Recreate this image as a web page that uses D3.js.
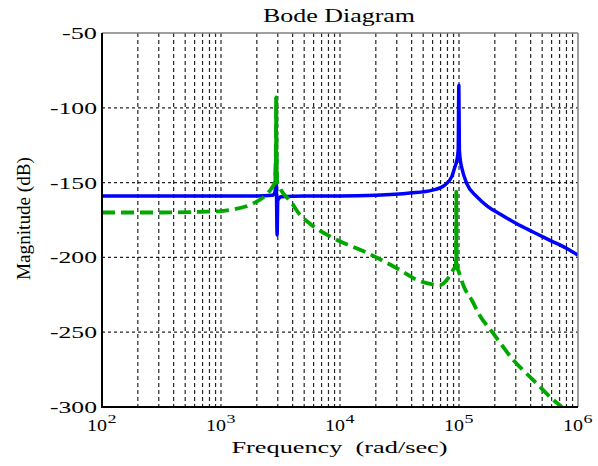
<!DOCTYPE html>
<html>
<head>
<meta charset="utf-8">
<script src="https://cdn.jsdelivr.net/npm/d3@7"></script>
<style>
  html, body { margin: 0; padding: 0; background: #fff; }
  svg { display: block; }
  text { font-family: "Liberation Serif", "Times New Roman", serif; fill: #000; }
</style>
</head>
<body>
<svg id="chart" width="598" height="466"></svg>
<script>
// ---- Data (frequency in rad/sec, magnitude in dB) ----
const blueFreq = [100, 1000, 2000, 2700, 2850, 2900, 2930, 2960, 3000, 3200, 5000, 10000, 20000, 38700, 60000, 75000, 87000, 92500, 96000, 98500, 99700, 100700, 103000, 105000, 116000, 141000, 175000, 221000, 306000, 419000, 582000, 804000, 1000000];
const blueMag  = [-159, -159, -159, -158.5, -156, -133, -160, -185, -162, -159.5, -159, -159, -158.5, -157, -155, -152, -146, -139.4, -135, -128, -85, -128, -136, -139.4, -150.5, -159.4, -166, -171, -177.5, -183, -188.6, -194, -198.5];

const greenFreq = [100, 300, 700, 1000, 1260, 1860, 2440, 2700, 2850, 2895, 2910, 2925, 2960, 3100, 3320, 3800, 4610, 5600, 8730, 16900, 31900, 44300, 60000, 69200, 80800, 89000, 94300, 95000, 95700, 100000, 110000, 128000, 150000, 194000, 286000, 421000, 620000, 730000, 900000];
const greenMag  = [-170, -170, -169.5, -169, -168, -164, -157.5, -153, -149, -120, -93, -120, -149, -153, -157, -162, -171.5, -177.5, -187, -197, -208.4, -215, -218, -218.5, -214, -208.5, -205, -156, -205, -210, -219.6, -228.5, -239, -250.8, -268.6, -282, -295.3, -300, -307];

const yTicks = [-50, -100, -150, -200, -250, -300];
const xDecades = [2, 3, 4, 5, 6];
const titleText = "Bode Diagram";
const xLabelText = "Frequency  (rad/sec)";
const yLabelText = "Magnitude (dB)";

// ---- Layout ----
const svg = d3.select("#chart");
const L = 102, R = 578, T = 33, B = 407;
const x = d3.scaleLog().domain([1e2, 1e6]).range([L, R]);
const y = d3.scaleLinear().domain([-300, -50]).range([B, T]);

svg.append("rect").attr("width", 598).attr("height", 466).attr("fill", "#fff");

svg.append("defs").append("clipPath").attr("id", "clip")
  .append("rect").attr("x", L).attr("y", T).attr("width", R - L).attr("height", B - T);

// ---- Grid ----
const minorVals = [];
for (let e = 2; e < 6; e++) for (let m = 1; m <= 9; m++) minorVals.push(m * Math.pow(10, e));
const grid = svg.append("g");
grid.selectAll("line.v").data(minorVals.filter(v => v > 1e2 && v < 1e6)).join("line")
  .attr("x1", d => x(d)).attr("x2", d => x(d)).attr("y1", T).attr("y2", B)
  .attr("stroke", "#000").attr("stroke-width", 1.2).attr("stroke-dasharray", "4,3").attr("opacity", 0.85);
grid.selectAll("line.h").data(yTicks.filter(v => v > -300 && v < -50)).join("line")
  .attr("x1", L).attr("x2", R).attr("y1", d => y(d)).attr("y2", d => y(d))
  .attr("stroke", "#000").attr("stroke-width", 1.2).attr("stroke-dasharray", "3,3").attr("opacity", 0.85);

// ---- Lines ----
const line = d3.line().x(d => x(d[0])).y(d => y(d[1])).curve(d3.curveMonotoneX);
const lineStraight = d3.line().x(d => x(d[0])).y(d => y(d[1]));
const blue = blueFreq.map((f, i) => [f, blueMag[i]]);
const green = greenFreq.map((f, i) => [f, greenMag[i]]);
const plot = svg.append("g").attr("clip-path", "url(#clip)");

plot.append("path").datum(blue).attr("d", line)
  .attr("fill", "none").attr("stroke", "#0000ff").attr("stroke-width", 3.5)
  .attr("stroke-linejoin", "round");

plot.append("path").datum(green).attr("d", line)
  .attr("fill", "none").attr("stroke", "#00a800").attr("stroke-width", 3.8)
  .attr("stroke-dasharray", "13,6");

// resonance spikes render solid (steep segments)
const steep = [];
for (let i = 1; i < green.length; i++) {
  if (Math.abs(green[i][1] - green[i - 1][1]) > 20) steep.push([green[i - 1], green[i]]);
}
plot.selectAll("path.steep").data(steep).join("path")
  .attr("d", lineStraight).attr("fill", "none").attr("stroke", "#00a800").attr("stroke-width", 3);

// ---- Frame ----
svg.append("line").attr("x1", L).attr("x2", R).attr("y1", T).attr("y2", T).attr("stroke", "#808080").attr("stroke-width", 1.5);
svg.append("line").attr("x1", R).attr("x2", R).attr("y1", T).attr("y2", B).attr("stroke", "#808080").attr("stroke-width", 1.5);
svg.append("line").attr("x1", L).attr("x2", L).attr("y1", T).attr("y2", B + 1).attr("stroke", "#000").attr("stroke-width", 2);
svg.append("line").attr("x1", L - 1).attr("x2", R).attr("y1", B).attr("y2", B).attr("stroke", "#000").attr("stroke-width", 2);

// ---- Tick labels ----
svg.selectAll("text.yt").data(yTicks).join("text")
  .attr("x", 97).attr("y", d => y(d) + 6)
  .attr("text-anchor", "end").attr("font-size", 16.5)
  .attr("textLength", d => String(d).length === 3 ? 35 : 47)
  .attr("lengthAdjust", "spacingAndGlyphs")
  .text(d => String(d));

const xt = svg.selectAll("g.xt").data(xDecades).join("g")
  .attr("transform", d => `translate(${x(Math.pow(10, d))},0)`);
xt.append("text").attr("x", -15).attr("y", 431).attr("font-size", 16.5)
  .attr("textLength", 20).attr("lengthAdjust", "spacingAndGlyphs").text("10");
xt.append("text").attr("x", 5.5).attr("y", 423).attr("font-size", 12.5)
  .attr("textLength", 9).attr("lengthAdjust", "spacingAndGlyphs").text(d => String(d));

// ---- Titles ----
svg.append("text").attr("x", 263).attr("y", 22).attr("font-size", 19)
  .attr("textLength", 152).attr("lengthAdjust", "spacingAndGlyphs").text(titleText);
svg.append("text").attr("x", 231.5).attr("y", 453).attr("font-size", 17.6)
  .style("white-space", "pre")
  .attr("textLength", 216).attr("lengthAdjust", "spacingAndGlyphs").text(xLabelText);
svg.append("text").attr("transform", "translate(30,280) rotate(-90)")
  .attr("x", 0).attr("y", 0).attr("font-size", 18)
  .attr("textLength", 123).attr("lengthAdjust", "spacingAndGlyphs").text(yLabelText);
</script>
</body>
</html>
